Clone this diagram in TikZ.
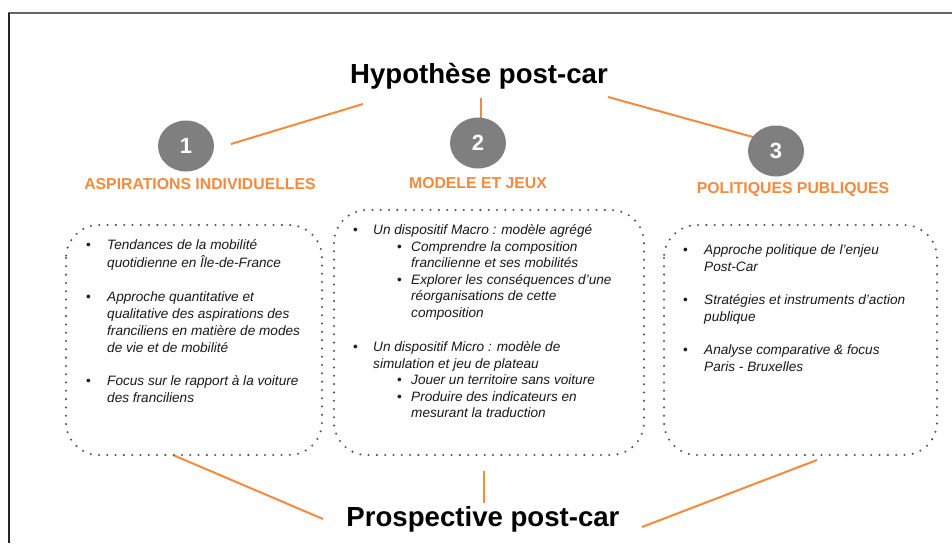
\documentclass[tikz,border=0pt]{standalone}
\usepackage{fontspec}
\setmainfont{Liberation Sans}
\usetikzlibrary{shapes.geometric}
\definecolor{orng}{RGB}{245,138,60}
\definecolor{dotg}{RGB}{80,82,90}
\definecolor{circg}{RGB}{127,127,127}
\definecolor{txtc}{RGB}{25,25,25}
\begin{document}
\begin{tikzpicture}[x=1pt,y=-1pt,
  txt/.style={anchor=base west,inner sep=0pt,text=txtc,font=\fontsize{13.6}{16}\selectfont\itshape},
  bul/.style={anchor=base west,inner sep=0pt,text=txtc,font=\fontsize{13.6}{16}\selectfont},
  title/.style={anchor=base,inner sep=0pt,font=\fontsize{27.6}{30}\selectfont\bfseries},
  lab/.style={anchor=base,inner sep=0pt,text=orng,font=\fontsize{15.8}{18}\selectfont\bfseries},
  num/.style={ellipse,fill=circg,minimum width=56pt,minimum height=51pt,inner sep=0pt,text=white,font=\fontsize{22}{24}\selectfont\bfseries},
  conn/.style={draw=orng,line width=2pt},
  dotbox/.style={draw=dotg,line width=2.3pt,line cap=round,dash pattern=on 0pt off 8.3pt,rounded corners=33pt}
]
\useasboundingbox (0,0) rectangle (952,543);
\fill[white] (0,0) rectangle (952,543);
% frame
\draw[gray!80!black,line width=2pt] (8,13) -- (952,13);
\draw[black!85,line width=1.6pt] (9,13) -- (9,543);

% connector endpoints
\coordinate (t1a) at (363,104);
\coordinate (t1b) at (231,144);
\coordinate (t2a) at (481,98);
\coordinate (t2b) at (481,118);
\coordinate (t3a) at (608,97);
\coordinate (t3b) at (753,137);
\coordinate (b1a) at (173,455);
\coordinate (b1b) at (323,519);
\coordinate (b2a) at (484,471);
\coordinate (b2b) at (484,503);
\coordinate (b3a) at (817,460);
\coordinate (b3b) at (642,527);

\draw[conn] (t1a) -- (t1b);
\draw[conn] (t2a) -- (t2b);
\draw[conn] (t3a) -- (t3b);
\draw[conn] (b1a) -- (b1b);
\draw[conn] (b2a) -- (b2b);
\draw[conn] (b3a) -- (b3b);

% titles
\node[title] (hyp) at (479,83) {Hypothèse post-car};
\node[title] (pros) at (483,526) {Prospective post-car};

% circles
\node[num] (c1) at (186,146) {1};
\node[num] (c2) at (478,143) {2};
\node[num] (c3) at (776,151) {3};

% labels
\node[lab] (l1) at (200,189.5) {ASPIRATIONS INDIVIDUELLES};
\node[lab] (l2) at (478,188.5) {MODELE ET JEUX};
\node[lab] (l3) at (793,193) {POLITIQUES PUBLIQUES};

% dotted boxes
\draw[dotbox] (66,225) rectangle (322,455);
\draw[dotbox] (334,210) rectangle (644,455);
\draw[dotbox] (664,225) rectangle (937,455);

% box 1
\node[bul] (p1b1) at (86,249) {•};
\node[txt] (p1l1) at (107,249) {Tendances de la mobilité};
\node[txt] (p1l2) at (107,267) {quotidienne en Île-de-France};
\node[bul] (p1b2) at (86,301) {•};
\node[txt] (p1l3) at (107,301) {Approche quantitative et};
\node[txt] (p1l4) at (107,318) {qualitative des aspirations des};
\node[txt] (p1l5) at (107,335) {franciliens en matière de modes};
\node[txt] (p1l6) at (107,352) {de vie et de mobilité};
\node[bul] (p1b3) at (86,385) {•};
\node[txt] (p1l7) at (107,385) {Focus sur le rapport à la voiture};
\node[txt] (p1l8) at (107,402) {des franciliens};

% box 2
\node[bul] (p2b1) at (353,234.5) {•};
\node[txt] (p2l1) at (373,234.5) {Un dispositif Macro : modèle agrégé};
\node[bul] (p2s1) at (397,251) {•};
\node[txt] (p2l2) at (411,251) {Comprendre la composition};
\node[txt] (p2l3) at (411,267.5) {francilienne et ses mobilités};
\node[bul] (p2s2) at (397,284) {•};
\node[txt] (p2l4) at (411,284) {Explorer les conséquences d’une};
\node[txt] (p2l5) at (411,300.5) {réorganisations de cette};
\node[txt] (p2l6) at (411,317) {composition};
\node[bul] (p2b2) at (353,351.5) {•};
\node[txt] (p2l7) at (373,351.5) {Un dispositif Micro : modèle de};
\node[txt] (p2l8) at (373,368) {simulation et jeu de plateau};
\node[bul] (p2s3) at (397,384.5) {•};
\node[txt] (p2l9) at (411,384.5) {Jouer un territoire sans voiture};
\node[bul] (p2s4) at (397,401) {•};
\node[txt] (p2l10) at (411,401) {Produire des indicateurs en};
\node[txt] (p2l11) at (411,417.5) {mesurant la traduction};

% box 3
\node[bul] (p3b1) at (683,254) {•};
\node[txt] (p3l1) at (704,254) {Approche politique de l’enjeu};
\node[txt] (p3l2) at (704,271) {Post-Car};
\node[bul] (p3b2) at (683,304) {•};
\node[txt] (p3l3) at (704,304) {Stratégies et instruments d’action};
\node[txt] (p3l4) at (704,321) {publique};
\node[bul] (p3b3) at (683,354) {•};
\node[txt] (p3l5) at (704,354) {Analyse comparative \& focus};
\node[txt] (p3l6) at (704,371) {Paris - Bruxelles};
\end{tikzpicture}
\end{document}
